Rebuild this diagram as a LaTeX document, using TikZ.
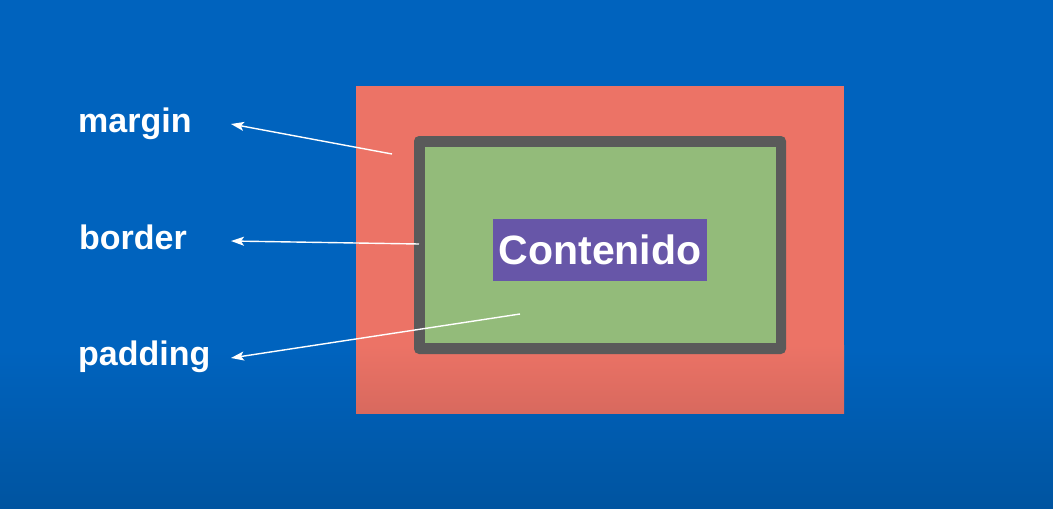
\documentclass[tikz,border=0pt]{standalone}
\usepackage{fontspec}
\setmainfont{Liberation Sans}
\usetikzlibrary{arrows.meta}
\definecolor{bgblue}{RGB}{0,99,190}
\definecolor{bgbluedark}{RGB}{0,84,160}
\definecolor{marginred}{RGB}{236,115,102}
\definecolor{marginreddark}{RGB}{216,105,94}
\definecolor{bordergray}{RGB}{90,90,90}
\definecolor{padgreen}{RGB}{147,187,122}
\definecolor{contpurple}{RGB}{103,86,168}
\tikzset{
  lbl/.style={anchor=base west, inner sep=0pt, text=white, font=\fontsize{34}{40}\selectfont\bfseries},
  arr/.style={draw=white, line width=1.4pt, -{Stealth[length=13pt,width=9pt,inset=3pt]}},
  contbox/.style={fill=contpurple, minimum width=214pt, minimum height=62pt, inner sep=0pt, text=white, font=\fontsize{41}{48}\selectfont\bfseries}
}
\begin{document}
\begin{tikzpicture}[x=1pt,y=-1pt]
\useasboundingbox (0,0) rectangle (1053,509);
% background
\fill[bgblue] (0,0) rectangle (1053,350);
\shade[top color=bgblue, bottom color=bgbluedark] (0,349.5) rectangle (1053,509);
% margin box
\fill[marginred] (356,86) rectangle (844,413);
\shade[top color=marginred, bottom color=marginreddark] (356,345) rectangle (844,413);
% border + padding
\fill[bordergray, rounded corners=5pt] (414,136) rectangle (786,354);
\fill[padgreen] (425,147) rectangle (776,343);
% content
\node[contbox] (cont) at (600,250) {Contenido};
% labels
\node[lbl] (margin) at (78,132) {margin};
\node[lbl] (border) at (79,249) {border};
\node[lbl] (padding) at (78,365) {padding};
% arrow coordinates
\coordinate (mtail) at (392,154);
\coordinate (mtip) at (231,124);
\coordinate (btail) at (419,244);
\coordinate (btip) at (231,241);
\coordinate (ptail) at (520,314);
\coordinate (ptip) at (231,358);
\draw[arr] (mtail) -- (mtip);
\draw[arr] (btail) -- (btip);
\draw[arr] (ptail) -- (ptip);
\end{tikzpicture}
\end{document}
